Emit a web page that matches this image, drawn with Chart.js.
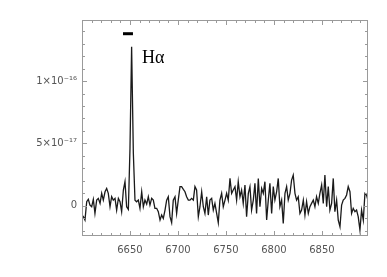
<!DOCTYPE html>
<html>
<head>
<meta charset="utf-8">
<script src="https://cdn.jsdelivr.net/npm/chart.js@4.4.1/dist/chart.umd.min.js"></script>
<style>
  html, body { margin: 0; padding: 0; background: #fff; }
  #wrap { width: 387px; height: 277px; }
</style>
</head>
<body>
<div id="wrap"><canvas id="chart" width="387" height="277"></canvas></div>
<script>
// wavelength in Angstrom, flux in units of 1e-17
const wavelength = [
  6600.0, 6601.4, 6603.1, 6604.9, 6606.6, 6608.3, 6610.1, 6611.8, 6613.5, 6615.3, 6617.0,
  6618.8, 6620.5, 6622.2, 6624.0, 6625.7, 6627.4, 6629.2, 6630.9, 6632.6, 6634.4,
  6636.1, 6637.9, 6639.6, 6641.3, 6643.1, 6644.8, 6646.5, 6648.3, 6650.0, 6651.7,
  6653.5, 6655.2, 6656.9, 6658.7, 6660.4, 6662.2, 6663.9, 6665.6, 6667.4, 6669.1,
  6670.8, 6672.6, 6674.3, 6676.0, 6677.8, 6679.5, 6681.3, 6683.0, 6684.7, 6686.5,
  6688.2, 6689.9, 6691.7, 6693.4, 6695.1, 6696.9, 6698.6, 6700.3, 6702.1, 6703.8,
  6705.6, 6707.3, 6709.0, 6710.8, 6712.5, 6714.2, 6716.0, 6717.7, 6719.4, 6721.2,
  6722.9, 6724.7, 6726.4, 6728.1, 6729.9, 6731.6, 6733.3, 6735.1, 6736.8, 6738.5,
  6740.3, 6742.0, 6743.7, 6745.5, 6747.2, 6749.0, 6750.7, 6752.4, 6754.2, 6755.9,
  6757.6, 6759.4, 6761.1, 6762.8, 6764.6, 6766.3, 6768.0, 6769.8, 6771.5, 6773.3,
  6775.0, 6776.7, 6778.5, 6780.2, 6781.9, 6783.7, 6785.4, 6787.2, 6788.9, 6790.6,
  6792.4, 6794.1, 6795.8, 6797.6, 6799.3, 6801.0, 6802.8, 6804.5, 6806.2, 6808.0,
  6809.7, 6811.5, 6813.2, 6814.9, 6816.7, 6818.4, 6820.1, 6821.9, 6823.6, 6825.3,
  6827.1, 6828.8, 6830.6, 6832.3, 6834.0, 6835.8, 6837.5, 6839.2, 6841.0, 6842.7,
  6844.4, 6846.2, 6847.9, 6849.7, 6851.4, 6853.1, 6854.9, 6856.6, 6858.3, 6860.1,
  6861.8, 6863.5, 6865.3, 6867.0, 6868.8, 6870.5, 6872.2, 6874.0, 6875.7, 6877.4,
  6879.2, 6880.9, 6882.6, 6884.4, 6886.1, 6887.8, 6889.6, 6891.3, 6893.1, 6894.8,
  6896.5, 6897.9
];
const flux = [
  -0.75, -0.88, -1.15, 0.32, 0.51, 0.05, -0.08, 0.51, -0.62, 0.45, 0.59,
  0.19, 0.99, 0.45, 1.12, 1.39, 0.99, -0.08, 0.72, 0.45, 0.59,
  -0.35, 0.59, 0.32, -0.48, 1.26, 1.93, -0.08, -0.3, 4.6, 12.76,
  4.2, 0.45, 0.32, 0.45, -0.21, 1.12, -0.08, 0.45, 0.13, 0.72,
  0.05, 0.59, 0.45, -0.21, -0.21, -0.48, -1.15, -0.75, -1.02, -0.35,
  0.45, 0.72, -0.88, -1.36, 0.45, 0.72, -0.62, 0.45, 1.53, 1.53,
  1.31, 1.12, 0.72, 0.45, 0.45, 0.59, 0.45, 1.53, 1.26, -0.88,
  -0.08, 1.12, -0.08, -0.62, 0.72, -0.75, 0.45, 0.59, -0.35, 0.19,
  -0.62, -1.36, 0.45, 0.99, -0.08, 0.45, 0.99, 0.45, 2.19, 0.99,
  1.26, 1.53, 0.45, 1.93, 0.72, 1.26, 0.19, 1.66, -0.88, 0.99,
  1.53, -0.35, 0.45, 1.79, -0.62, 2.19, -0.08, 1.39, 0.99, 1.93,
  -1.15, 0.45, 1.79, -0.62, 1.53, 0.45, 1.12, 2.19, -0.08, 0.45,
  -1.42, 0.99, 1.53, 0.45, 0.99, 2.06, 2.46, 0.99, 0.45, 0.72,
  -0.62, -0.35, 0.45, -0.75, 0.32, -0.62, -0.08, 0.19, 0.45, -0.08,
  0.72, 0.19, 0.99, 1.66, 0.19, 2.46, -0.08, 1.53, -0.35, 0.19,
  2.19, -0.48, 0.45, -1.15, -1.69, 0.05, 0.45, 0.59, 0.86, 1.53,
  1.12, -0.62, -0.21, -0.48, -0.35, -0.88, -1.95, -0.35, -1.15, 0.99,
  0.86, 0.45
];

// short bar above the line
const barWave = [6642.7, 6653.1];
const barFlux = [13.8, 13.8];

const xMajor = [6650, 6700, 6750, 6800, 6850];
const xMinor = [6610, 6620, 6630, 6640, 6660, 6670, 6680, 6690, 6710, 6720, 6730, 6740,
  6760, 6770, 6780, 6790, 6810, 6820, 6830, 6840, 6860, 6870, 6880, 6890];
const yMajor = [0, 5, 10];
const yLabels = ["0", "5×10⁻¹⁷", "1×10⁻¹⁶"];
const yMinor = [-2, -1, 1, 2, 3, 4, 6, 7, 8, 9, 11, 12, 13, 14];

const lineLabel = "Hα";
const labelPos = [6662.5, 11.45];

const axisGray = "#9a9a9a";

const framePlugin = {
  id: "frame",
  afterDraw(chart) {
    const ctx = chart.ctx;
    const a = chart.chartArea;
    const xs = chart.scales.x;
    const ys = chart.scales.y;
    ctx.save();
    ctx.strokeStyle = axisGray;
    ctx.lineWidth = 1;
    ctx.strokeRect(a.left + 0.5, a.top + 0.5, a.right - a.left - 1, a.bottom - a.top - 1);

    ctx.beginPath();
    function xTick(v, len) {
      const px = Math.round(xs.getPixelForValue(v)) + 0.5;
      ctx.moveTo(px, a.bottom);
      ctx.lineTo(px, a.bottom - len);
      ctx.moveTo(px, a.top);
      ctx.lineTo(px, a.top + len);
    }
    function yTick(v, len) {
      const py = Math.round(ys.getPixelForValue(v)) + 0.5;
      ctx.moveTo(a.left, py);
      ctx.lineTo(a.left + len, py);
      ctx.moveTo(a.right, py);
      ctx.lineTo(a.right - len, py);
    }
    xMajor.forEach(v => xTick(v, 5));
    xMinor.forEach(v => xTick(v, 3));
    yMajor.forEach(v => yTick(v, 5));
    yMinor.forEach(v => yTick(v, 3));
    ctx.stroke();

    ctx.fillStyle = "#000";
    ctx.font = "18px 'Liberation Serif', serif";
    ctx.textAlign = "left";
    ctx.textBaseline = "alphabetic";
    ctx.fillText(lineLabel, xs.getPixelForValue(labelPos[0]), ys.getPixelForValue(labelPos[1]));
    ctx.restore();
  }
};

const ctx = document.getElementById("chart").getContext("2d");
const myChart = new Chart(ctx, {
  type: "line",
  data: {
    datasets: [
      {
        data: wavelength.map((w, i) => ({ x: w, y: flux[i] })),
        borderColor: "#1a1a1a",
        borderWidth: 1.3,
        pointRadius: 0,
        tension: 0,
      },
      {
        data: barWave.map((w, i) => ({ x: w, y: barFlux[i] })),
        borderColor: "#000",
        borderWidth: 3,
        pointRadius: 0,
      },
    ],
  },
  options: {
    responsive: false,
    animation: false,
    layout: { padding: { top: 20, right: 19, left: 0, bottom: 0 } },
    plugins: { legend: { display: false }, tooltip: { enabled: false } },
    scales: {
      x: {
        type: "linear",
        min: 6600,
        max: 6898,
        grid: { display: false, drawTicks: false },
        border: { display: false },
        afterBuildTicks: (axis) => { axis.ticks = xMajor.map(v => ({ value: v })); },
        afterFit: (axis) => { axis.height = 41; },
        ticks: {
          color: "#555",
          font: { family: "'DejaVu Sans'", size: 10 },
          padding: 8,
          maxRotation: 0,
          callback: (v) => String(v),
        },
      },
      y: {
        type: "linear",
        min: -2.43,
        max: 14.9,
        grid: { display: false, drawTicks: false },
        border: { display: false },
        afterBuildTicks: (axis) => { axis.ticks = yMajor.map(v => ({ value: v })); },
        afterFit: (axis) => { axis.width = 82; },
        ticks: {
          color: "#555",
          font: { family: "'DejaVu Sans'", size: 10 },
          padding: 5,
          callback: (v) => yLabels[yMajor.indexOf(v)],
        },
      },
    },
  },
  plugins: [framePlugin],
});
</script>
</body>
</html>
